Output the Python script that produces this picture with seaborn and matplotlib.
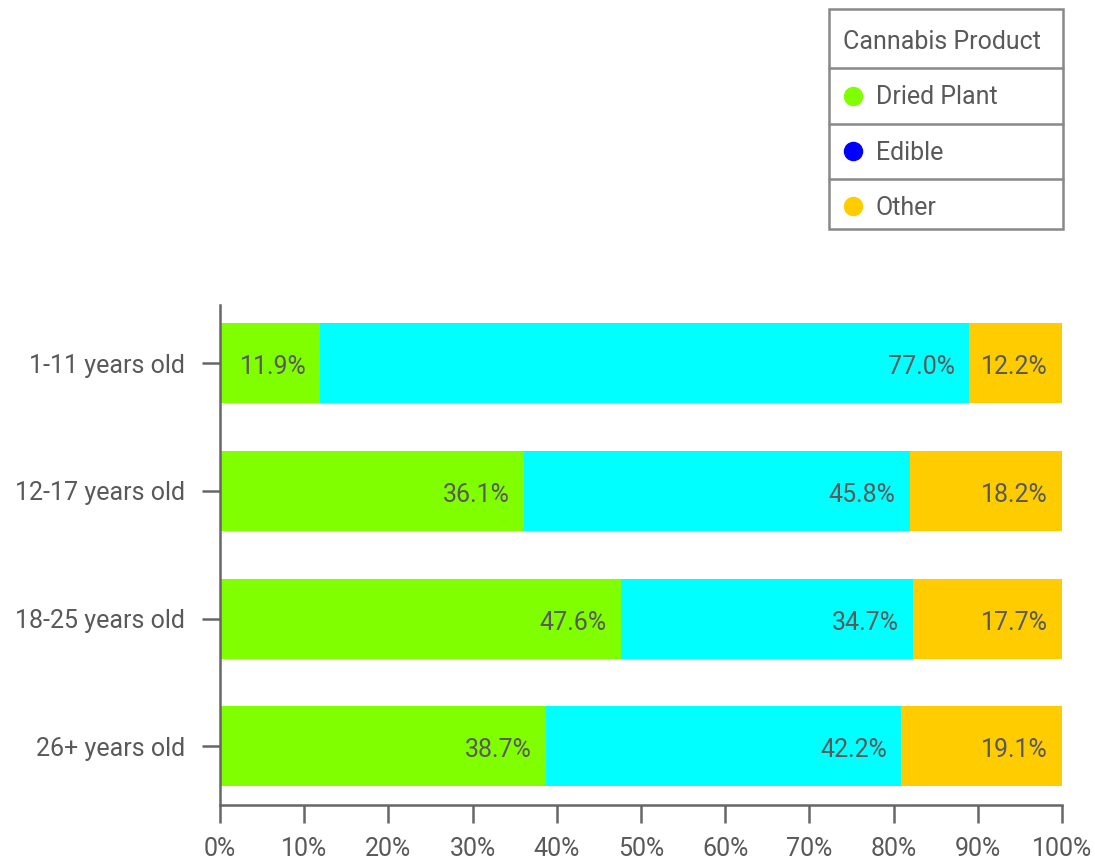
import matplotlib
matplotlib.use("Agg")
import matplotlib.pyplot as plt
from matplotlib.lines import Line2D
from matplotlib.patches import Rectangle
import seaborn as sns
import pandas as pd
import numpy as np

# ---- data ----
groups = ["1-11 years old", "12-17 years old", "18-25 years old", "26+ years old"]
dried_plant = [11.9, 36.1, 47.6, 38.7]
edible = [77.0, 45.8, 34.7, 42.2]
other = [12.2, 18.2, 17.7, 19.1]
series_names = ["Dried Plant", "Edible", "Other"]
bar_colors = ["#80FF00", "#00FFFF", "#FFCC00"]
legend_colors = ["#80FF00", "#0000FF", "#FFCC00"]
x_ticks = [0, 10, 20, 30, 40, 50, 60, 70, 80, 90, 100]
x_ticklabels = [f"{t}%" for t in x_ticks]

sns.set_theme(style="white")
plt.rcParams["font.family"] = ["Roboto", "DejaVu Sans"]
TXT = "#595959"
AX = "#666666"
FS = 18

fig = plt.figure(figsize=(10.95, 8.65), dpi=100)
ax = fig.add_axes([220 / 1095, 1 - 805 / 865, (1062 - 220) / 1095, 500 / 865])

df = pd.DataFrame({"group": groups, "Dried Plant": dried_plant,
                   "Edible": edible, "Other": other})
cum1 = df["Dried Plant"]
cum2 = cum1 + df["Edible"]
cum3 = cum2 + df["Other"]
df["c1"], df["c2"], df["c3"] = cum1, cum2, cum3

bw = 0.626
for col, color in zip(["c3", "c2", "c1"], bar_colors[::-1]):
    sns.barplot(data=df, x=col, y="group", order=groups, color=color,
                width=bw, orient="h", ax=ax, saturation=1, linewidth=0)

# labels
for i, g in enumerate(groups):
    ends = [cum1[i], cum2[i], min(cum3[i], 100)]
    vals = [dried_plant[i], edible[i], other[i]]
    for e, v in zip(ends, vals):
        ax.annotate(f"{v:.1f}%", xy=(e, i), xytext=(-10, -3),
                    textcoords="offset points", ha="right", va="center",
                    fontsize=FS, color=TXT)

ax.set_xlim(0, 100)
ax.set_ylim(3.46, -0.455)
ax.set_xticks(x_ticks)
ax.set_xticklabels(x_ticklabels)
ax.set_xlabel("")
ax.set_ylabel("")
for s in ["top", "right"]:
    ax.spines[s].set_visible(False)
for s in ["left", "bottom"]:
    ax.spines[s].set_color(AX)
    ax.spines[s].set_linewidth(1.8)
ax.tick_params(axis="both", which="both", length=13, width=1.8, color=AX,
               labelcolor=TXT, labelsize=FS, direction="out",
               bottom=True, left=True)
ax.tick_params(axis="x", pad=10)
ax.tick_params(axis="y", pad=12)
ax.grid(False)

# legend
handles = [Line2D([0], [0], marker="o", linestyle="none", markersize=13,
                  markerfacecolor=c, markeredgecolor=c) for c in legend_colors]
leg = ax.legend(handles, series_names, title="Cannabis Product",
                loc="upper left",
                bbox_to_anchor=(822 / 1095, 1 - 229 / 865, 241 / 1095, 220 / 865),
                bbox_transform=fig.transFigure, mode="expand", borderaxespad=0,
                fontsize=FS, title_fontsize=FS, frameon=False,
                labelspacing=1.25, handlelength=0.8, handletextpad=0.5,
                borderpad=0.85, alignment="left")
for t in leg.get_texts():
    t.set_color(TXT)
leg.get_title().set_color(TXT)

fig.canvas.draw()
r = fig.canvas.get_renderer()
items = [leg.get_title()] + list(leg.get_texts())
exts = [t.get_window_extent(r) for t in items]
W, H = fig.get_size_inches() * fig.dpi
fx0, fx1 = 829, 1063
top = exts[0].y1 + 21
bottom = exts[-1].y0 - 9
fig.add_artist(Rectangle((fx0 / W, bottom / H), (fx1 - fx0) / W, (top - bottom) / H,
                         transform=fig.transFigure, facecolor="none",
                         edgecolor="#888888", linewidth=1.8))
for a, b in zip(exts[:-1], exts[1:]):
    y = (a.y0 + b.y1) / 2 + 1.5
    fig.add_artist(Line2D([fx0 / W, fx1 / W], [y / H, y / H],
                          transform=fig.transFigure, color="#888888",
                          linewidth=1.8))

fig.savefig("out.png", dpi=100)
